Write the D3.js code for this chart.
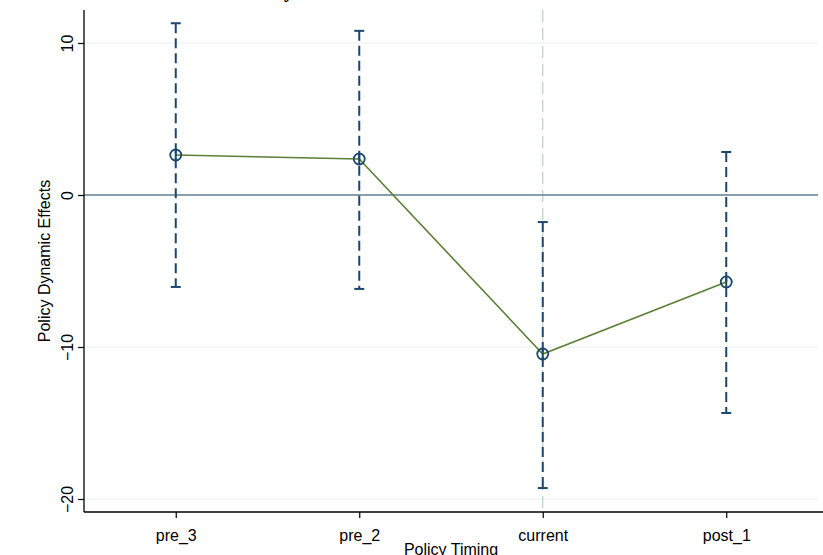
<!DOCTYPE html>
<html>
<head>
<meta charset="utf-8">
<script src="https://cdn.jsdelivr.net/npm/d3@7"></script>
<style>
  body { margin: 0; background: #fff; }
  svg { display: block; font-family: 'Liberation Sans', Arial, sans-serif; }
</style>
</head>
<body>
<svg id="chart" width="823" height="555"></svg>
<script>
const periods = ['pre_3', 'pre_2', 'current', 'post_1']
const estimates = [2.63, 2.37, -10.46, -5.72]
const upper = [11.3, 10.8, -1.78, 2.83]
const lower = [-6.05, -6.18, -19.28, -14.34]
const yTicks = [-20, -10, 0, 10]

const w = 823
const h = 555
const plotLeft = 84
const plotRight = 818
const plotTop = 10
const plotBottom = 512

const navy = '#1a476f'
const olive = '#5b7f35'

const svg = d3.select('#chart').attr('width', w).attr('height', h)

const x = d3.scalePoint().domain(periods).range([plotLeft, plotRight]).padding(0.5)
const y = d3.scaleLinear().domain([-20, 10]).range([499, 43])

const rows = periods.map((p, i) => ({ p, est: estimates[i], hi: upper[i], lo: lower[i] }))

// grid lines
svg.append('g')
  .selectAll('line')
  .data(yTicks.filter((d) => d !== 0))
  .join('line')
  .attr('x1', plotLeft)
  .attr('x2', plotRight)
  .attr('y1', (d) => y(d))
  .attr('y2', (d) => y(d))
  .attr('stroke', '#eaf0f2')
  .attr('stroke-width', 1.2)

// reference line at current
svg.append('line')
  .attr('x1', x('current'))
  .attr('x2', x('current'))
  .attr('y1', plotTop)
  .attr('y2', plotBottom)
  .attr('stroke', '#b9cdca')
  .attr('stroke-width', 1.2)
  .attr('stroke-dasharray', '12,6')

// zero line
svg.append('line')
  .attr('x1', plotLeft)
  .attr('x2', plotRight)
  .attr('y1', y(0))
  .attr('y2', y(0))
  .attr('stroke', '#5f7f90')
  .attr('stroke-width', 1.5)

// error bars
const bars = svg.append('g').selectAll('g').data(rows).join('g')
bars.append('line')
  .attr('x1', (d) => x(d.p))
  .attr('x2', (d) => x(d.p))
  .attr('y1', (d) => y(d.hi))
  .attr('y2', (d) => y(d.lo))
  .attr('stroke', navy)
  .attr('stroke-width', 2)
  .attr('stroke-dasharray', '10,5')
bars.selectAll('line.cap')
  .data((d) => [d.hi, d.lo].map((v) => ({ p: d.p, v })))
  .join('line')
  .attr('class', 'cap')
  .attr('x1', (d) => x(d.p) - 5)
  .attr('x2', (d) => x(d.p) + 5)
  .attr('y1', (d) => y(d.v))
  .attr('y2', (d) => y(d.v))
  .attr('stroke', navy)
  .attr('stroke-width', 2)

// connecting line
const line = d3.line().x((d) => x(d.p)).y((d) => y(d.est))
svg.append('path')
  .datum(rows)
  .attr('d', line)
  .attr('fill', 'none')
  .attr('stroke', olive)
  .attr('stroke-width', 1.6)

// markers
svg.append('g')
  .selectAll('circle')
  .data(rows)
  .join('circle')
  .attr('cx', (d) => x(d.p))
  .attr('cy', (d) => y(d.est))
  .attr('r', 5.5)
  .attr('fill', 'none')
  .attr('stroke', navy)
  .attr('stroke-width', 1.8)
svg.append('g')
  .selectAll('line')
  .data(rows)
  .join('line')
  .attr('x1', (d) => x(d.p))
  .attr('x2', (d) => x(d.p))
  .attr('y1', (d) => y(d.est) - 5.5)
  .attr('y2', (d) => y(d.est) + 5.5)
  .attr('stroke', navy)
  .attr('stroke-width', 2)

// axes
const yAxis = svg.append('g')
  .attr('transform', `translate(${plotLeft},0)`)
  .call(d3.axisLeft(y).tickValues(yTicks).tickSize(6).tickFormat(d3.format('d')))
yAxis.select('.domain').remove()
yAxis.selectAll('.tick line').attr('stroke', '#000').attr('stroke-width', 1.2)
yAxis.selectAll('.tick text')
  .attr('transform', 'rotate(-90)')
  .attr('x', 0)
  .attr('y', -11)
  .attr('dy', 0)
  .attr('text-anchor', 'middle')
  .style('font-size', '16px')
  .attr('fill', '#000')
svg.append('line')
  .attr('x1', plotLeft).attr('x2', plotLeft)
  .attr('y1', plotTop).attr('y2', plotBottom)
  .attr('stroke', '#000').attr('stroke-width', 1.3)

const xAxis = svg.append('g')
  .attr('transform', `translate(0,${plotBottom})`)
  .call(d3.axisBottom(x).tickSize(6).tickSizeOuter(0))
xAxis.select('.domain').remove()
xAxis.selectAll('.tick line').attr('stroke', '#000').attr('stroke-width', 1.2)
xAxis.selectAll('.tick text')
  .attr('y', 29)
  .attr('dy', 0)
  .style('font-size', '16px')
  .attr('fill', '#000')
svg.append('line')
  .attr('x1', plotLeft).attr('x2', w)
  .attr('y1', plotBottom).attr('y2', plotBottom)
  .attr('stroke', '#000').attr('stroke-width', 1.3)

// titles
svg.append('text')
  .attr('x', (plotLeft + plotRight) / 2)
  .attr('y', 555)
  .attr('text-anchor', 'middle')
  .style('font-size', '16px')
  .text('Policy Timing')

svg.append('text')
  .attr('transform', `translate(50,${(plotTop + plotBottom) / 2}) rotate(-90)`)
  .attr('text-anchor', 'middle')
  .style('font-size', '16px')
  .text('Policy Dynamic Effects')

svg.append('text')
  .attr('x', 294)
  .attr('y', -3)
  .attr('text-anchor', 'end')
  .style('font-size', '20px')
  .style('font-weight', 'bold')
  .style('font-family', "'Liberation Serif', serif")
  .text('Event Study')
</script>
</body>
</html>
